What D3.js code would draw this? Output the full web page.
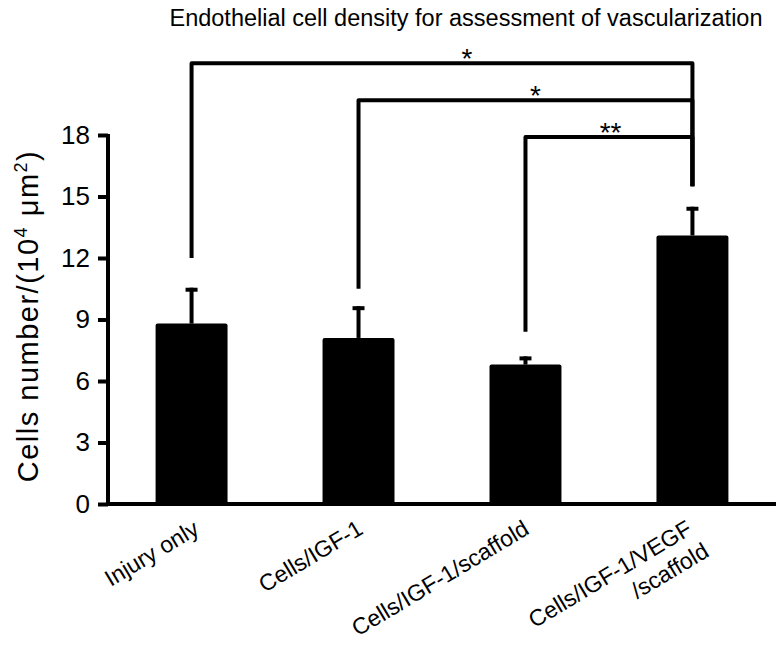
<!DOCTYPE html>
<html><head><meta charset="utf-8">
<script src="https://cdn.jsdelivr.net/npm/d3@7"></script>
<style>body{margin:0;background:#fff}svg{display:block}text{font-family:"Liberation Sans",Arial,Helvetica,sans-serif;fill:#000}</style>
</head><body><svg id="c" width="783" height="671"></svg>
<script>
const categories = ["Injury only", "Cells/IGF-1", "Cells/IGF-1/scaffold", "Cells/IGF-1/VEGF\n/scaffold"];
const means = [8.8, 8.1, 6.8, 13.1];
const errors = [1.75, 1.55, 0.4, 1.4];
const yTicks = [0, 3, 6, 9, 12, 15, 18];
// significance brackets: from bar, to bar, bracket level, end of left drop, end of right drop, label, label position fraction
const sigFrom = [0, 1, 2];
const sigTo = [3, 3, 3];
const sigLevel = [21.5, 19.7, 17.9];
const sigDropFrom = [12.0, 10.5, 8.4];
const sigDropTo = [15.5, 15.5, 15.5];
const sigLabel = ["*", "*", "**"];
const sigLabelPos = [0.55, 0.53, 0.51];
const title = "Endothelial cell density for assessment of vascularization";

const svg = d3.select("#c");
const x = d3.scaleBand().domain(categories).range([108, 776]).paddingInner(0.569).paddingOuter(0.285);
const y = d3.scaleLinear().domain([0, 18]).range([504, 135]);
const bw = x.bandwidth();
const cx = d => x(d) + bw / 2;

svg.append("text").attr("x", 466).attr("y", 26).attr("text-anchor", "middle")
  .style("font-size", "23.5px").text(title);

// bars
svg.append("g").selectAll("rect").data(categories).join("rect")
  .attr("x", d => x(d)).attr("width", bw)
  .attr("y", (d, i) => y(means[i])).attr("height", (d, i) => y(0) - y(means[i]))
  .attr("rx", 2).attr("fill", "#000");

// error bars
const eb = svg.append("g").attr("stroke", "#000");
categories.forEach((d, i) => {
  eb.append("line").attr("x1", cx(d)).attr("x2", cx(d)).attr("y1", y(means[i])).attr("y2", y(means[i] + errors[i])).attr("stroke-width", 4);
  eb.append("line").attr("x1", cx(d) - 6).attr("x2", cx(d) + 6).attr("y1", y(means[i] + errors[i]) + 2).attr("y2", y(means[i] + errors[i]) + 2).attr("stroke-width", 4);
});

// y axis
const ya = svg.append("g").attr("transform", "translate(108,0)")
  .call(d3.axisLeft(y).tickValues(yTicks).tickSize(10).tickSizeOuter(0).tickPadding(8).tickFormat(d3.format("d")));
ya.select(".domain").attr("stroke-width", 4).attr("d", `M0,${y(18)-1}V${y(0)+2}`);
ya.selectAll(".tick line").attr("stroke-width", 4);
ya.selectAll(".tick text").style("font-size", "26px").attr("font-family", null);

// x axis line
svg.append("line").attr("x1", 106).attr("x2", 776).attr("y1", y(0)).attr("y2", y(0)).attr("stroke", "#000").attr("stroke-width", 4);

// x labels
const xl = svg.append("g");
const xlOff = [9, 6, 5, 1];
categories.forEach((d, i) => {
  const lines = d.split("\n");
  const t = xl.append("text").attr("text-anchor", "end").style("font-size", "23px")
    .attr("transform", `translate(${cx(d) + xlOff[i]},${y(0) + 29}) rotate(-31)`);
  lines.forEach((ln, j) => {
    t.append("tspan").attr("x", j * 3).attr("y", j * 28).text(ln);
  });
});

// y title
const yt = svg.append("text").attr("transform", "translate(38,316) rotate(-90)")
  .attr("text-anchor", "middle").style("font-size", "29px").style("letter-spacing", "1.5px");
yt.append("tspan").text("Cells number/(10");
yt.append("tspan").attr("dy", -11).style("font-size", "18px").text("4");
yt.append("tspan").attr("dy", 11).text(" \u03bcm");
yt.append("tspan").attr("dy", -11).style("font-size", "18px").text("2");
yt.append("tspan").attr("dy", 11).text(")");

// significance brackets
const sg = svg.append("g");
sigFrom.forEach((f, k) => {
  const x1 = cx(categories[f]), x2 = cx(categories[sigTo[k]]);
  const yl = y(sigLevel[k]);
  sg.append("path").attr("fill", "none").attr("stroke", "#000").attr("stroke-width", 4)
    .attr("stroke-linejoin", "round")
    .attr("d", `M${x1},${y(sigDropFrom[k])}V${yl}H${x2}V${y(sigDropTo[k])}`);
  sg.append("text").attr("x", x1 + (x2 - x1) * sigLabelPos[k]).attr("y", yl + 5)
    .attr("text-anchor", "middle").style("font-size", "28px").text(sigLabel[k]);
});
</script></body></html>
